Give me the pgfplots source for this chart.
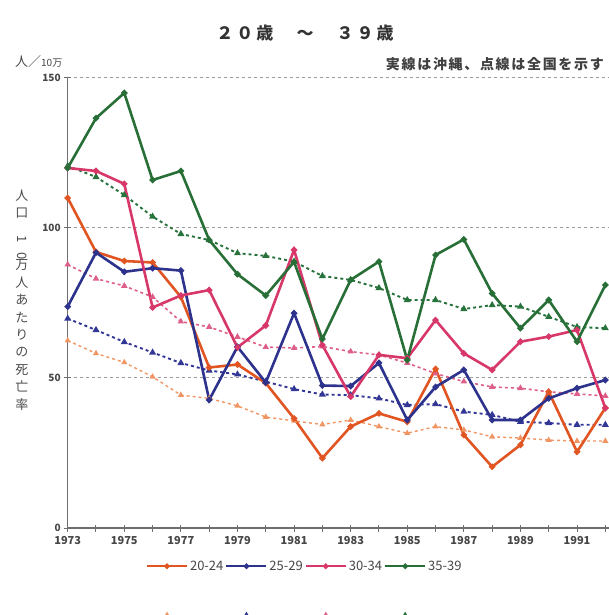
\documentclass[border=0pt]{standalone}
\usepackage{fontspec}
\setmainfont{Noto Sans CJK JP}
\usepackage{pgfplots}
\pgfplotsset{compat=1.18}

\definecolor{c20}{RGB}{225,85,35}
\definecolor{c25}{RGB}{45,50,140}
\definecolor{c30}{RGB}{215,55,105}
\definecolor{c35}{RGB}{40,110,55}
\definecolor{n20}{RGB}{240,150,100}
\definecolor{n25}{RGB}{50,55,150}
\definecolor{n30}{RGB}{222,95,135}
\definecolor{n35}{RGB}{40,115,60}
\definecolor{txt}{RGB}{70,70,70}
\definecolor{axc}{RGB}{110,110,110}

\pgfplotsset{
  oki/.style={line width=2.6pt, mark=*, mark size=1.7pt},
  nat/.style={line width=1.9pt, dash pattern=on 3pt off 3pt, mark=triangle*, mark size=2.2pt, mark options={solid}},
}

\begin{document}
\begin{tikzpicture}
\useasboundingbox (-67.7pt,-87pt) rectangle (541.3pt,528pt);
\begin{axis}[
    scale only axis,
    width=541.3pt, height=450pt,
    xmin=1973, xmax=1992.13,
    ymin=0, ymax=150,
    axis x line*=bottom,
    axis y line*=left,
    axis line style={-, axc, line width=1.2pt},
    xtick={1973,1975,...,1991},
    minor xtick={1974,1976,...,1992},
    ytick={0,50,100,150},
    ymajorgrids=true,
    grid style={axc!70, line width=1pt, dash pattern=on 3pt off 3pt},
    minor grid style={draw=none},
    tick align=center,
    major tick length=7pt, minor tick length=7pt,
    tick style={axc, line width=1pt},
    /pgf/number format/1000 sep={},
    /pgf/number format/assume math mode=true,
    xticklabel style={font=\fontsize{11}{12}\selectfont\bfseries, text=txt, yshift=-1pt},
    yticklabel style={font=\fontsize{10}{12}\selectfont\bfseries, text=txt},
    legend style={at={(0.438,-0.068)}, anchor=north, draw=none, fill=none,
        legend columns=4, font=\fontsize{13}{14}\selectfont, text=txt,
        /tikz/every even column/.append style={column sep=0pt},
        /tikz/every odd column/.append style={column sep=0pt},
        row sep=34pt, inner sep=0pt},
    legend image code/.code={%
        \draw[mark repeat=2,mark phase=2,#1] plot coordinates {(0pt,0pt) (20pt,0pt) (40pt,0pt)};},
]
% nationwide (dotted)
\addplot[n20, nat, line width=1.4pt, forget plot] coordinates {
(1973,62.5) (1974,58.2) (1975,55.2) (1976,50.4) (1977,44.3) (1978,43.2) (1979,40.7) (1980,37) (1981,35.7) (1982,34.5)
(1983,36) (1984,33.8) (1985,31.6) (1986,33.8) (1987,32.7) (1988,30.4) (1989,30) (1990,29.3) (1991,29) (1992,29)};
\addplot[n25, nat, forget plot] coordinates {
(1973,69.8) (1974,66) (1975,62) (1976,58.5) (1977,55) (1978,52.5) (1979,51.2) (1980,48.8) (1981,46.3) (1982,44.5)
(1983,44.3) (1984,43.2) (1985,41) (1986,41.3) (1987,38.8) (1988,37.7) (1989,35.4) (1990,35) (1991,34.4) (1992,34.4)};
\addplot[n30, nat, line width=1.6pt, forget plot] coordinates {
(1973,87.8) (1974,83.1) (1975,80.7) (1976,77) (1977,68.8) (1978,67) (1979,63.7) (1980,60.3) (1981,60) (1982,60.5)
(1983,58.8) (1984,57.7) (1985,55) (1986,51.5) (1987,48.8) (1988,47) (1989,46.6) (1990,45.4) (1991,44.7) (1992,44)};
\addplot[n35, nat, forget plot] coordinates {
(1973,120.7) (1974,117) (1975,111) (1976,103.8) (1977,98) (1978,96) (1979,91.6) (1980,90.7) (1981,88.8) (1982,84)
(1983,82.7) (1984,80) (1985,76) (1986,76) (1987,73) (1988,74.3) (1989,73.8) (1990,70.4) (1991,67) (1992,66.6)};
% Okinawa (solid)
\addplot[c20, oki, forget plot] coordinates {
(1973,110) (1974,92) (1975,89) (1976,88.5) (1977,77) (1978,53.5) (1979,54.5) (1980,48.3) (1981,36.5) (1982,23.3)
(1983,33.8) (1984,38.2) (1985,35.4) (1986,53) (1987,31) (1988,20.4) (1989,27.7) (1990,45.4) (1991,25.4) (1992,40)};
\addplot[c25, oki, forget plot] coordinates {
(1973,73.8) (1974,91.8) (1975,85.4) (1976,86.6) (1977,85.8) (1978,42.7) (1979,60.4) (1980,48.5) (1981,71.6) (1982,47.5)
(1983,47.3) (1984,55) (1985,36) (1986,47) (1987,52.7) (1988,36) (1989,36) (1990,43.2) (1991,46.6) (1992,49.3)};
\addplot[c30, oki, forget plot] coordinates {
(1973,120) (1974,119) (1975,114.7) (1976,73.5) (1977,77.5) (1978,79.3) (1979,60.2) (1980,67.5) (1981,92.7) (1982,61)
(1983,43.8) (1984,57.7) (1985,56.6) (1986,69.3) (1987,58.2) (1988,52.7) (1989,62.1) (1990,63.8) (1991,66) (1992,40)};
\addplot[c35, oki, forget plot] coordinates {
(1973,120) (1974,136.6) (1975,145) (1976,116) (1977,119) (1978,96) (1979,84.6) (1980,77.5) (1981,88.7) (1982,63)
(1983,82.7) (1984,88.8) (1985,56) (1986,91) (1987,96.2) (1988,78.2) (1989,66.6) (1990,76) (1991,62.1) (1992,81)};
% legend: Okinawa row, then the nationwide row (its labels fall below the picture's edge)
\addlegendimage{c20, oki, line width=2pt}\addlegendentry{20-24}
\addlegendimage{c25, oki, line width=2pt}\addlegendentry{25-29}
\addlegendimage{c30, oki, line width=2pt}\addlegendentry{30-34}
\addlegendimage{c35, oki, line width=2pt}\addlegendentry{35-39}
\addlegendimage{n20, nat, line width=1.4pt}\addlegendentry{\phantom{20-24}}
\addlegendimage{n25, nat, line width=1.4pt}\addlegendentry{\phantom{25-29}}
\addlegendimage{n30, nat, line width=1.4pt}\addlegendentry{\phantom{30-34}}
\addlegendimage{n35, nat, line width=1.4pt}\addlegendentry{\phantom{35-39}}
\end{axis}
% title and notes
\node[font=\fontsize{17}{20}\selectfont\bfseries\addfontfeature{LetterSpace=18}, text=black!80] at (237.3pt,495pt) {２０歳　～　３９歳};
\node[anchor=west, text=txt, inner sep=0pt] at (-52.7pt,466pt) {{\fontsize{13}{14}\selectfont 人／}{\fontsize{10}{12}\selectfont 10万}};
\node[anchor=east, text=black!75, inner sep=0pt, font=\fontsize{14}{16}\selectfont\bfseries\addfontfeature{LetterSpace=12}] at (536.3pt,464pt) {実線は沖縄、点線は全国を示す};
\node[align=center, text=black!70, font=\fontsize{13}{17.4}\selectfont] at (-45.7pt,228pt)
  {人\\口\\\rotatebox{-90}{1}\\\rotatebox{-90}{0}\\万\\人\\あ\\た\\り\\の\\死\\亡\\率};
\end{tikzpicture}
\end{document}
